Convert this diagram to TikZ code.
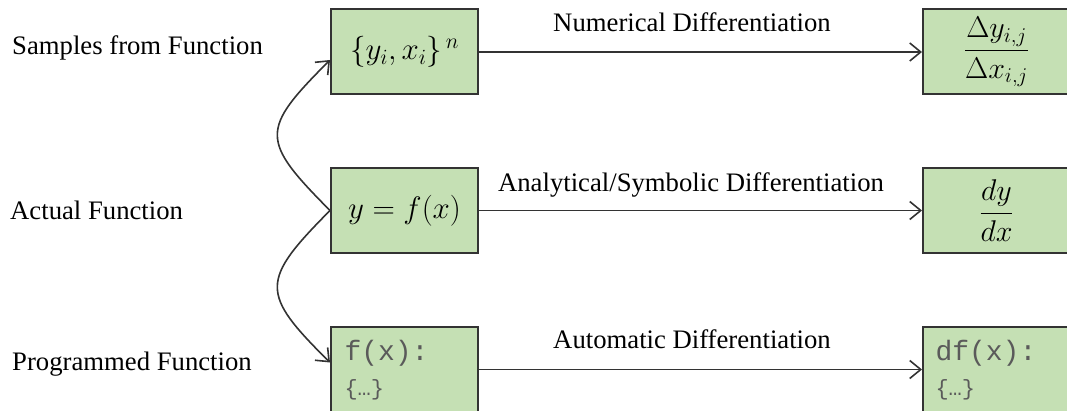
\RequirePackage{fix-cm}
\documentclass[tikz,border=0pt]{standalone}
\usepackage{amsmath}
\usepackage{fontspec}
\setmainfont{Liberation Serif}
\setmonofont{Liberation Mono}
\usetikzlibrary{arrows.meta}
\definecolor{boxfill}{HTML}{C5E0B4}
\definecolor{boxline}{HTML}{333333}
\definecolor{codegray}{HTML}{5A5A5A}
\definecolor{lineclr}{HTML}{333333}
\tikzset{
  box/.style={draw=boxline, fill=boxfill, line width=2pt, minimum width=147pt, minimum height=85pt, inner sep=0pt},
  lab/.style={font=\fontsize{26.7}{32}\selectfont, inner sep=0pt},
  mth/.style={font=\fontsize{31}{36}\selectfont},
  frc/.style={font=\fontsize{30}{36}\selectfont},
  conn/.style={draw=lineclr, line width=1.6pt, -{Straight Barb[length=11pt,width=18pt,line width=1.6pt]}},
  code/.style={text=codegray, font=\ttfamily\fontsize{28}{30}\selectfont},
  codesm/.style={text=codegray, font=\ttfamily\fontsize{22}{26}\selectfont},
}
\begin{document}
\begin{tikzpicture}[x=1pt,y=1pt]
\useasboundingbox (0,0) rectangle (1067,410);
\clip (0,0) rectangle (1067,410);
% boxes
\node[box] (s) at (404.5,358) {};
\node[mth] (st) at (s.center) {$\{y_i, x_i\}^{\,n}$};
\node[box] (a) at (404.5,199.5) {};
\node[mth] (at) at (a.center) {$y = f(x)$};
\node[box] (p) at (404.5,40.5) {};
\node[code, anchor=base west] (pt1) at (341,50) {f(x):};
\node[codesm, anchor=base west] (pt2) at (341,15) {\{\ldots\}};
\node[box] (ds) at (996.5,358) {};
\node[frc] (dst) at (ds.center) {$\dfrac{\Delta y_{i,j}}{\Delta x_{i,j}}$};
\node[box] (da) at (996.5,199.5) {};
\node[frc] (dat) at (da.center) {$\dfrac{dy}{dx}$};
\node[box] (dp) at (996.5,40.5) {};
\node[code, anchor=base west] (dpt1) at (932,50) {df(x):};
\node[codesm, anchor=base west] (dpt2) at (932,15) {\{\ldots\}};
% left labels
\node[lab, anchor=base west] (l1) at (12,355) {Samples from Function};
\node[lab, anchor=base west] (l2) at (10,190) {Actual Function};
\node[lab, anchor=base west] (l3) at (12,40) {Programmed Function};
% arrow labels
\node[lab, anchor=base] (m1) at (692,378) {Numerical Differentiation};
\node[lab, anchor=base] (m2) at (691,218) {Analytical/Symbolic Differentiation};
\node[lab, anchor=base] (m3) at (692,62) {Automatic Differentiation};
% connectors
\draw[conn] (s.east) -- (ds.west);
\draw[conn] (a.east) -- (da.west);
\draw[conn] (p.east) -- (dp.west);
\coordinate (stop) at ([yshift=-8pt]s.west);
\coordinate (pbot) at ([yshift=7pt]p.west);
\draw[conn] (a.west) .. controls (260,270) and (260,280) .. (stop);
\draw[conn] (a.west) .. controls (260,129) and (260,117) .. (pbot);
\end{tikzpicture}
\end{document}
